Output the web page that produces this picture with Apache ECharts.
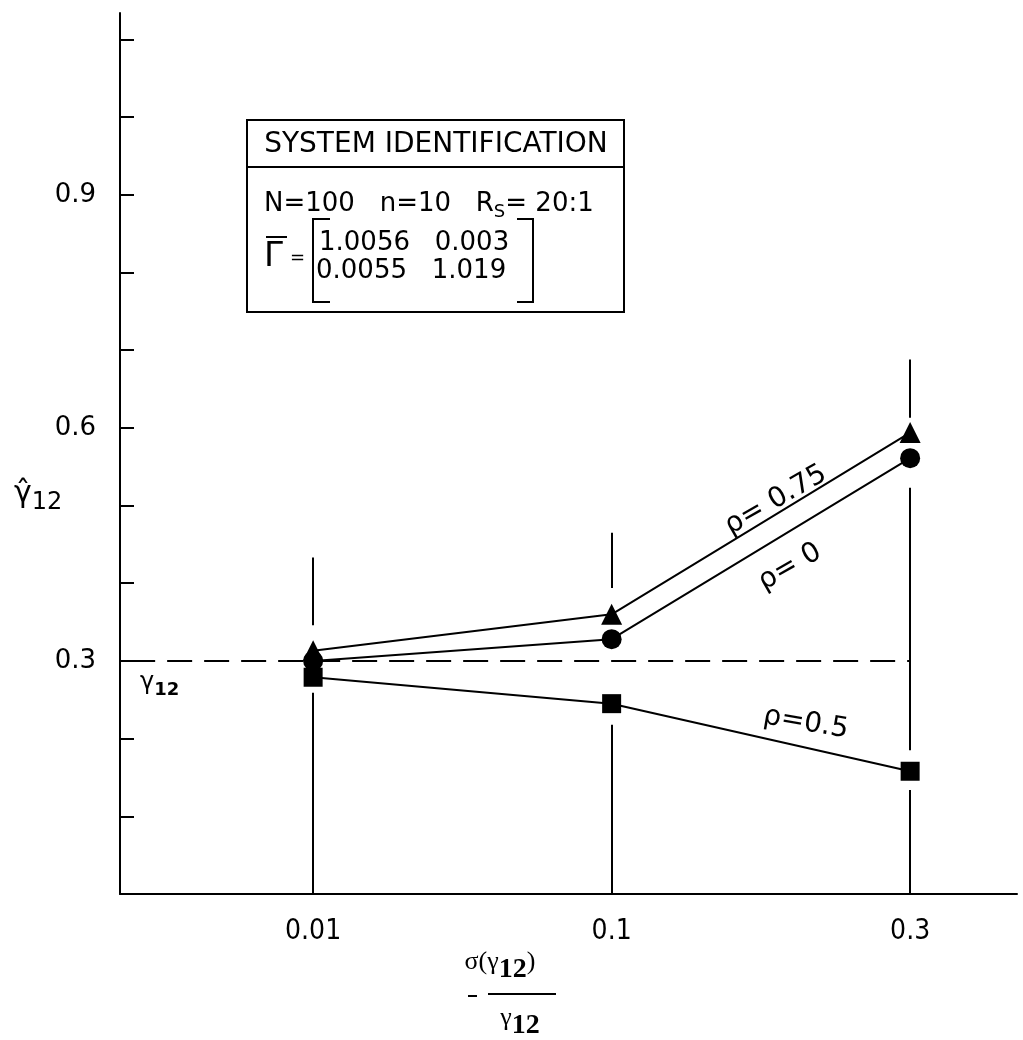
<!DOCTYPE html>
<html><head><meta charset="utf-8">
<script src="https://cdn.jsdelivr.net/npm/echarts@6/dist/echarts.min.js"></script>
<style>html,body{margin:0;padding:0;background:#fff}#c{width:1023px;height:1040px}</style>
</head><body><div id="c"></div>
<script>
// ---- data ----
const xCategories = ['0.01', '0.1', '0.3'];          // sigma(gamma12)/gamma12, equally spaced positions 0,1,2
const xPositions = [0, 1, 2];
const rho075 = [0.313, 0.360, 0.594];                 // triangles
const rho0 = [0.300, 0.328, 0.561];                   // circles
const rho05 = [0.279, 0.245, 0.158];                  // squares
const trueGamma12 = 0.3;
const yTickValues = [0.1, 0.2, 0.3, 0.4, 0.5, 0.6, 0.7, 0.8, 0.9, 1.0, 1.1];
const yLabelValues = [0.3, 0.6, 0.9];
// vertical reference segments at each category: [position, from, to]
const verticalSegments = [
  [0, 0.433, 0.346], [0, 0.259, 0],
  [1, 0.465, 0.394], [1, 0.218, 0],
  [2, 0.688, 0.613], [2, 0.523, 0.185], [2, 0.134, 0]
];

const FAM = '"DejaVu Sans", "Liberation Sans", sans-serif';
const SERIF = '"Liberation Serif", "DejaVu Serif", serif';
const toPairs = (vals) => xPositions.map((x, i) => [x, vals[i]]);

const chart = echarts.init(document.getElementById('c'), null, {renderer: 'canvas'});
const option = {
  backgroundColor: '#fff',
  animation: false,
  grid: {left: 120, right: 6, top: 13, bottom: 146, containLabel: false},
  xAxis: {
    type: 'value', min: -0.647, max: 2.358,
    axisLine: {show: true, onZero: false, lineStyle: {color: '#000', width: 2}},
    axisTick: {show: false},
    splitLine: {show: false},
    axisLabel: {
      customValues: xPositions,
      formatter: (v) => xCategories[Math.round(v)],
      color: '#000', fontSize: 28, margin: 24,
      fontFamily: '"Liberation Sans Narrow", "DejaVu Sans Condensed", sans-serif'
    }
  },
  yAxis: {
    type: 'value', min: 0, max: 1.134,
    axisLine: {show: true, onZero: false, lineStyle: {color: '#000', width: 2}},
    axisTick: {show: true, inside: true, length: 14, customValues: yTickValues, lineStyle: {color: '#000', width: 2}},
    splitLine: {show: false},
    axisLabel: {
      customValues: yLabelValues,
      formatter: (v) => v.toFixed(1),
      color: '#000', fontSize: 26, margin: 24, fontFamily: FAM
    }
  },
  series: [
    {
      type: 'line', name: 'vertical', data: [], silent: true, z: 1,
      markLine: {
        silent: true, symbol: ['none', 'none'], label: {show: false},
        lineStyle: {color: '#000', width: 2, type: 'solid'},
        data: verticalSegments.map(s => [{coord: [s[0], s[1]]}, {coord: [s[0], s[2]]}])
      }
    },
    {
      type: 'line', name: 'gamma12', silent: true, z: 2, symbol: 'none',
      data: [[-0.613, trueGamma12], [xPositions[2], trueGamma12]],
      lineStyle: {color: '#000', width: 2, type: [25, 12]}
    },
    {
      type: 'line', name: 'rho=0.75', data: toPairs(rho075), z: 3,
      symbol: 'triangle', symbolSize: 21, showSymbol: true,
      itemStyle: {color: '#000'}, lineStyle: {color: '#000', width: 2}
    },
    {
      type: 'line', name: 'rho=0', data: toPairs(rho0), z: 3,
      symbol: 'circle', symbolSize: 20,
      itemStyle: {color: '#000'}, lineStyle: {color: '#000', width: 2}
    },
    {
      type: 'line', name: 'rho=0.5', data: toPairs(rho05), z: 3,
      symbol: 'rect', symbolSize: 19,
      itemStyle: {color: '#000'}, lineStyle: {color: '#000', width: 2}
    }
  ]
};
chart.setOption(option);

// ---- annotations ----
const px = (x, y) => chart.convertToPixel({gridIndex: 0}, [x, y]);
const pA = px(1.55, 0.507);
const pB = px(1.597, 0.421);
const pC = px(1.65, 0.22);
const pG = px(-0.58, trueGamma12);

const T = (size, extra) => Object.assign({fontSize: size, fontFamily: FAM, fill: '#000'}, extra || {});

const graphics = [
  // box
  {type: 'rect', shape: {x: 247, y: 120, width: 377, height: 192}, style: {fill: '#fff', stroke: '#000', lineWidth: 2}},
  {type: 'line', shape: {x1: 247, y1: 167, x2: 624, y2: 167}, style: {stroke: '#000', lineWidth: 2}},
  {type: 'text', x: 436, y: 145, style: T(28, {text: 'SYSTEM IDENTIFICATION', align: 'center', verticalAlign: 'middle'})},
  {type: 'text', x: 264, y: 204, style: {
    text: '{r|N=100   n=10   R}{s|S}{r|= 20:1}',
    verticalAlign: 'middle',
    rich: {r: T(26), s: T(18, {padding: [16, 0, 0, 0]})}
  }},
  {type: 'text', x: 264, y: 257, style: T(34, {text: 'Γ', verticalAlign: 'middle'})},
  {type: 'line', shape: {x1: 266, y1: 237, x2: 287, y2: 237}, style: {stroke: '#000', lineWidth: 2}},
  {type: 'text', x: 290, y: 258, style: T(18, {text: '=', verticalAlign: 'middle'})},
  {type: 'polyline', shape: {points: [[330, 219], [313, 219], [313, 302], [330, 302]]}, style: {fill: 'none', stroke: '#000', lineWidth: 2}},
  {type: 'polyline', shape: {points: [[517, 219], [533, 219], [533, 302], [517, 302]]}, style: {fill: 'none', stroke: '#000', lineWidth: 2}},
  {type: 'text', x: 319, y: 243, style: T(26, {text: '1.0056   0.003', verticalAlign: 'middle'})},
  {type: 'text', x: 316, y: 271, style: T(26, {text: '0.0055   1.019', verticalAlign: 'middle'})},
  // y axis name
  {type: 'text', x: 14, y: 494, style: {
    text: '{g|γ̂}{s|12}', verticalAlign: 'middle',
    rich: {g: T(30), s: T(24, {padding: [18, 0, 0, 0]})}
  }},
  // gamma12 near dashed line
  {type: 'text', x: pG[0], y: pG[1] + 22, style: {
    text: '{g|γ}{s|12}', verticalAlign: 'middle',
    rich: {g: T(24), s: T(18, {fontWeight: 'bold', padding: [14, 0, 0, 0]})}
  }},
  // x axis name (fraction)
  {type: 'text', x: 500, y: 962, style: {
    text: '{g|σ(γ}{s|12}{g|)}', align: 'center', verticalAlign: 'middle',
    rich: {g: T(26, {fontFamily: SERIF}), s: T(28, {fontFamily: SERIF, fontWeight: 'bold', padding: [16, 0, 0, 0]})}
  }},
  {type: 'line', shape: {x1: 468, y1: 996, x2: 477, y2: 996}, style: {stroke: '#000', lineWidth: 2}},
  {type: 'line', shape: {x1: 488, y1: 994, x2: 556, y2: 994}, style: {stroke: '#000', lineWidth: 2}},
  {type: 'text', x: 520, y: 1018, style: {
    text: '{g|γ}{s|12}', align: 'center', verticalAlign: 'middle',
    rich: {g: T(26, {fontFamily: SERIF}), s: T(28, {fontFamily: SERIF, fontWeight: 'bold', padding: [16, 0, 0, 0]})}
  }},
  // curve labels
  {type: 'text', x: pA[0], y: pA[1], rotation: 0.52, style: T(28, {text: 'ρ= 0.75', align: 'center', verticalAlign: 'middle'})},
  {type: 'text', x: pB[0], y: pB[1], rotation: 0.52, style: T(28, {text: 'ρ= 0', align: 'center', verticalAlign: 'middle'})},
  {type: 'text', x: pC[0], y: pC[1], rotation: -0.17, style: T(28, {text: 'ρ=0.5', align: 'center', verticalAlign: 'middle'})}
];
chart.setOption({graphic: graphics});
</script>
</body></html>
